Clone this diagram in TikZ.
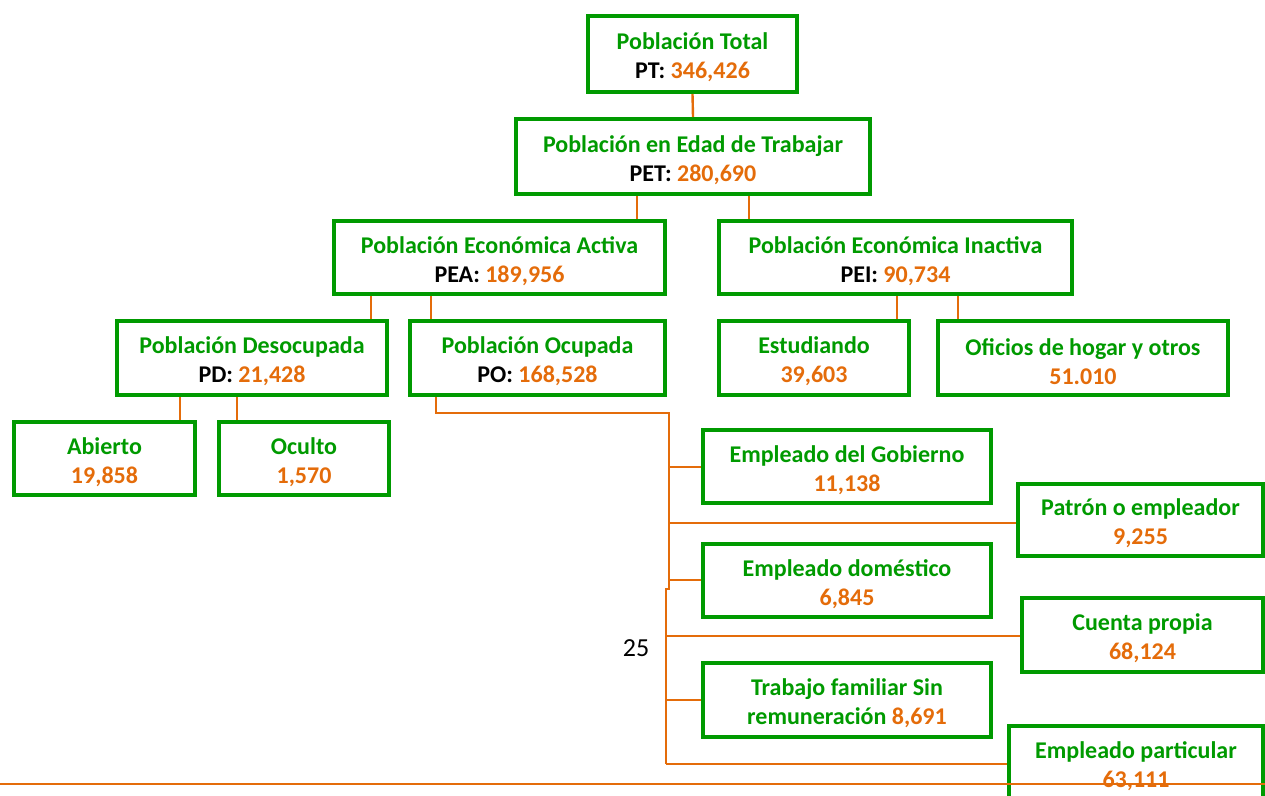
\documentclass[tikz,border=0pt]{standalone}
\usepackage{fontspec}
\setmainfont{Carlito}
\definecolor{grn}{HTML}{009A00}
\definecolor{org}{HTML}{E46C0A}
\begin{document}
\begin{tikzpicture}[x=1pt,y=-1pt,
  box/.style={draw=grn, line width=4pt, align=center, text=grn,
    font=\fontsize{24}{29}\selectfont\bfseries, inner sep=0pt},
  conn/.style={draw=org, line width=2.4pt}]
\useasboundingbox (0,0) rectangle (1265,795);
\newcommand{\K}[1]{\textcolor{black}{#1}}
\newcommand{\N}[1]{\textcolor{org}{#1}}
\newcommand{\T}{\rule{0pt}{24pt}}
% boxes
\node[box, minimum width=209pt, minimum height=76pt] (PT) at (692.5,54) {\T Población Total\\\K{PT:} \N{346,426}};
\node[box, minimum width=354pt, minimum height=75pt] (PET) at (693,156.5) {\T Población en Edad de Trabajar\\\K{PET:} \N{280,690}};
\node[box, minimum width=331pt, minimum height=73pt] (PEA) at (499.5,257.5) {\T Población Económica Activa\\\K{PEA:} \N{189,956}};
\node[box, minimum width=353pt, minimum height=73pt] (PEI) at (895.5,257.5) {\T Población Económica Inactiva\\\K{PEI:} \N{90,734}};
\node[box, minimum width=270pt, minimum height=74pt] (PD) at (252,358) {\T Población Desocupada\\\K{PD:} \N{21,428}};
\node[box, minimum width=255pt, minimum height=74pt] (PO) at (537.5,358) {\T Población Ocupada\\\K{PO:} \N{168,528}};
\node[box, minimum width=190pt, minimum height=74pt] (EST) at (814,358) {\T Estudiando\\\N{39,603}};
\node[box, minimum width=290pt, minimum height=74pt] (OFI) at (1083,358) {\T Oficios de hogar y otros\\\N{51.010}};
\node[box, minimum width=181pt, minimum height=73pt] (AB) at (104.5,458.5) {\T Abierto\\\N{19,858}};
\node[box, minimum width=170pt, minimum height=73pt] (OC) at (304,458.5) {\T Oculto\\\N{1,570}};
\node[box, minimum width=288pt, minimum height=73pt] (GOB) at (847,466.5) {\T Empleado del Gobierno\\\N{11,138}};
\node[box, minimum width=245pt, minimum height=72pt] (PAT) at (1140.5,520) {\T Patrón o empleador\\\N{9,255}};
\node[box, minimum width=288pt, minimum height=73pt] (DOM) at (847,580.5) {\T Empleado doméstico\\\N{6,845}};
\node[box, minimum width=241pt, minimum height=74pt] (CP) at (1142.5,635) {\T Cuenta propia\\\N{68,124}};
\node[box, minimum width=288pt, minimum height=74pt] (TF) at (847,700) {\T Trabajo familiar Sin\\remuneración \N{8,691}};
\node[box, minimum width=254pt, minimum height=74pt] (EP) at (1136,763) {\T Empleado particular\\\N{63,111}};
\node[font=\fontsize{26}{30}\selectfont] (pg) at (636,648) {25};
% connectors
\draw[conn] (PT.south) -- (PET.north);
\draw[conn] ([xshift=-56pt]PET.south) -- ([xshift=-56pt]PET.south |- PEA.north);
\draw[conn] ([xshift=56pt]PET.south) -- ([xshift=56pt]PET.south |- PEI.north);
\draw[conn] ([xshift=-128.5pt]PEA.south) -- ([xshift=-128.5pt]PEA.south |- PD.north);
\draw[conn] ([xshift=-68.5pt]PEA.south) -- ([xshift=-68.5pt]PEA.south |- PO.north);
\draw[conn] ([xshift=1.5pt]PEI.south) -- ([xshift=1.5pt]PEI.south |- EST.north);
\draw[conn] ([xshift=62.5pt]PEI.south) -- ([xshift=62.5pt]PEI.south |- OFI.north);
\draw[conn] ([xshift=-72pt]PD.south) -- ([xshift=-72pt]PD.south |- AB.north);
\draw[conn] ([xshift=-15pt]PD.south) -- ([xshift=-15pt]PD.south |- OC.north);
\coordinate (t1) at (669,413);
\coordinate (t2) at (669,589);
\coordinate (t3) at (666,589);
\coordinate (t4) at (666,764);
\draw[conn] ([xshift=-101.5pt]PO.south) |- (t1) -- (t2) -- (t3) -- (t4);
\draw[conn] (669,467) -- (669,467 -| GOB.west);
\draw[conn] (669,523) -- (669,523 -| PAT.west);
\draw[conn] (669,580) -- (669,580 -| DOM.west);
\draw[conn] (666,636) -- (666,636 -| CP.west);
\draw[conn] (666,700) -- (666,700 -| TF.west);
\draw[conn] (t4) -- (t4 -| EP.west);
\coordinate (b0) at (0,784);
\coordinate (b1) at (1265,784);
\draw[conn] (b0) -- (b1);
\end{tikzpicture}
\end{document}
